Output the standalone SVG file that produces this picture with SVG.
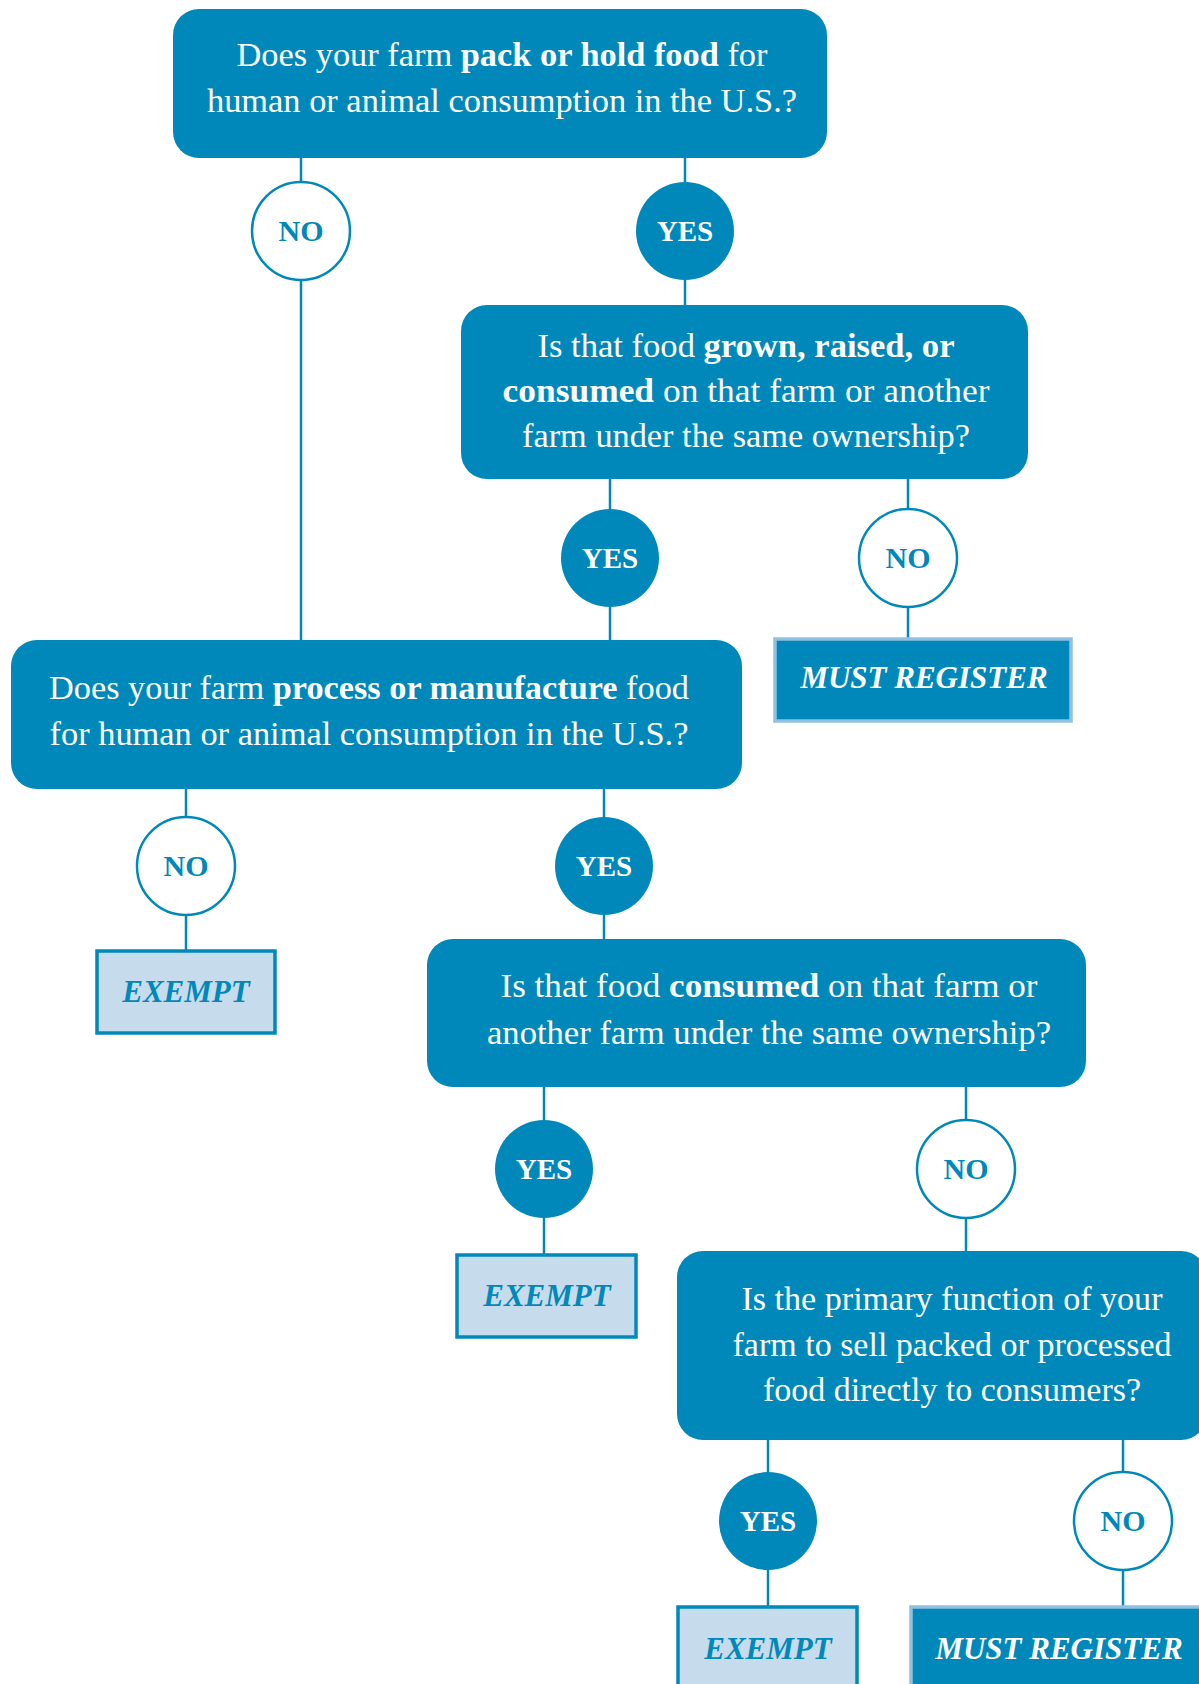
<svg xmlns="http://www.w3.org/2000/svg" width="1199" height="1684" viewBox="0 0 1199 1684">
<style>
.q{fill:#0088bb}
.t{font-family:"Liberation Serif",serif;font-size:33px;fill:#ffffff;text-anchor:middle}
.b{font-weight:bold}
.yes{fill:#0088bb}
.no{fill:#ffffff;stroke:#0088bb;stroke-width:2.5}
.yl{font-family:"Liberation Serif",serif;font-size:29px;font-weight:bold;fill:#ffffff;text-anchor:middle}
.nl{font-family:"Liberation Serif",serif;font-size:30px;font-weight:bold;fill:#0088bb;text-anchor:middle}
.ex{fill:#c6dcec;stroke:#0088bb;stroke-width:3.5}
.exl{font-family:"Liberation Serif",serif;font-size:31px;font-weight:bold;font-style:italic;fill:#0088bb;text-anchor:middle}
.mr{fill:#0088bb;stroke:#92c0e0;stroke-width:3.5}
.mrl{font-family:"Liberation Serif",serif;font-size:31px;font-weight:bold;font-style:italic;fill:#ffffff;text-anchor:middle}
.c{stroke:#0088bb;stroke-width:2.5;fill:none}
</style>
<g id="connectors">
<line class="c" x1="301" y1="158" x2="301" y2="640"/>
<line class="c" x1="685" y1="158" x2="685" y2="305"/>
<line class="c" x1="610" y1="479" x2="610" y2="640"/>
<line class="c" x1="908" y1="479" x2="908" y2="638"/>
<line class="c" x1="186" y1="789" x2="186" y2="950"/>
<line class="c" x1="604" y1="789" x2="604" y2="939"/>
<line class="c" x1="544" y1="1087" x2="544" y2="1254"/>
<line class="c" x1="966" y1="1087" x2="966" y2="1251"/>
<line class="c" x1="768" y1="1440" x2="768" y2="1606"/>
<line class="c" x1="1123" y1="1440" x2="1123" y2="1606"/>
</g>
<g id="q1">
<rect class="q" x="173" y="9" width="654" height="149" rx="26"/>
<text class="t" x="502" y="66" textLength="531" lengthAdjust="spacingAndGlyphs">Does your farm <tspan class="b">pack or hold food</tspan> for</text>
<text class="t" x="502" y="112" textLength="590" lengthAdjust="spacingAndGlyphs">human or animal consumption in the U.S.?</text>
</g>
<g id="no1"><circle class="no" cx="301" cy="231" r="49"/><text class="nl" x="301" y="241">NO</text></g>
<g id="yes1"><circle class="yes" cx="685" cy="231" r="49"/><text class="yl" x="685" y="241">YES</text></g>
<g id="q2">
<rect class="q" x="461" y="305" width="567" height="174" rx="26"/>
<text class="t" x="746" y="357" textLength="417" lengthAdjust="spacingAndGlyphs">Is that food <tspan class="b">grown, raised, or</tspan></text>
<text class="t" x="746" y="402" textLength="487" lengthAdjust="spacingAndGlyphs"><tspan class="b">consumed</tspan> on that farm or another</text>
<text class="t" x="746" y="447" textLength="448" lengthAdjust="spacingAndGlyphs">farm under the same ownership?</text>
</g>
<g id="yes2"><circle class="yes" cx="610" cy="558" r="49"/><text class="yl" x="610" y="568">YES</text></g>
<g id="no2"><circle class="no" cx="908" cy="558" r="49"/><text class="nl" x="908" y="568">NO</text></g>
<g id="mr1">
<rect class="mr" x="775" y="639" width="296" height="82"/>
<text class="mrl" x="924" y="688">MUST REGISTER</text>
</g>
<g id="q3">
<rect class="q" x="11" y="640" width="731" height="149" rx="26"/>
<text class="t" x="369" y="699" textLength="640" lengthAdjust="spacingAndGlyphs">Does your farm <tspan class="b">process or manufacture</tspan> food</text>
<text class="t" x="369" y="745" textLength="639" lengthAdjust="spacingAndGlyphs">for human or animal consumption in the U.S.?</text>
</g>
<g id="no3"><circle class="no" cx="186" cy="866" r="49"/><text class="nl" x="186" y="876">NO</text></g>
<g id="yes3"><circle class="yes" cx="604" cy="866" r="49"/><text class="yl" x="604" y="876">YES</text></g>
<g id="ex1">
<rect class="ex" x="97" y="951" width="178" height="82"/>
<text class="exl" x="186" y="1002">EXEMPT</text>
</g>
<g id="q4">
<rect class="q" x="427" y="939" width="659" height="148" rx="26"/>
<text class="t" x="769" y="997" textLength="537" lengthAdjust="spacingAndGlyphs">Is that food <tspan class="b">consumed</tspan> on that farm or</text>
<text class="t" x="769" y="1044" textLength="564" lengthAdjust="spacingAndGlyphs">another farm under the same ownership?</text>
</g>
<g id="yes4"><circle class="yes" cx="544" cy="1169" r="49"/><text class="yl" x="544" y="1179">YES</text></g>
<g id="no4"><circle class="no" cx="966" cy="1169" r="49"/><text class="nl" x="966" y="1179">NO</text></g>
<g id="ex2">
<rect class="ex" x="457" y="1255" width="179" height="82"/>
<text class="exl" x="547" y="1306">EXEMPT</text>
</g>
<g id="q5">
<rect class="q" x="677" y="1251" width="530" height="189" rx="26"/>
<text class="t" x="952" y="1310" textLength="421" lengthAdjust="spacingAndGlyphs">Is the primary function of your</text>
<text class="t" x="952" y="1356" textLength="439" lengthAdjust="spacingAndGlyphs">farm to sell packed or processed</text>
<text class="t" x="952" y="1401" textLength="378" lengthAdjust="spacingAndGlyphs">food directly to consumers?</text>
</g>
<g id="yes5"><circle class="yes" cx="768" cy="1521" r="49"/><text class="yl" x="768" y="1531">YES</text></g>
<g id="no5"><circle class="no" cx="1123" cy="1521" r="49"/><text class="nl" x="1123" y="1531">NO</text></g>
<g id="ex3">
<rect class="ex" x="678" y="1607" width="179" height="90"/>
<text class="exl" x="768" y="1659">EXEMPT</text>
</g>
<g id="mr2">
<rect class="mr" x="911" y="1607" width="300" height="90"/>
<text class="mrl" x="1059" y="1659">MUST REGISTER</text>
</g>
</svg>
